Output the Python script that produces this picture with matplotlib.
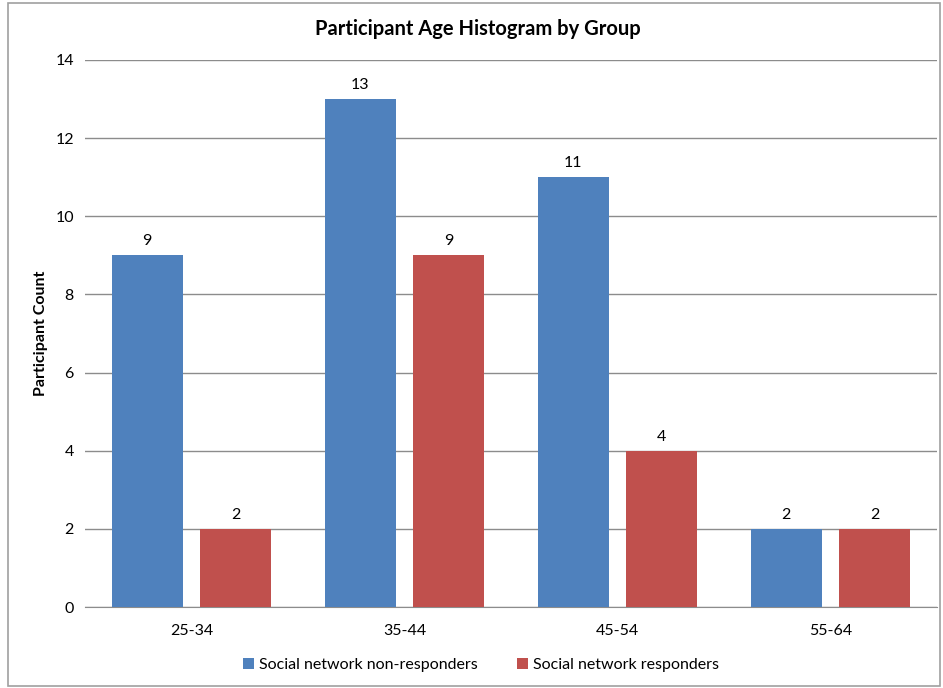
import matplotlib
matplotlib.use("Agg")
import matplotlib.pyplot as plt
from matplotlib.patches import Rectangle
import numpy as np

age_groups = ["25-34", "35-44", "45-54", "55-64"]
non_responders = [9, 13, 11, 2]
responders = [2, 9, 4, 2]
series_names = ["Social network non-responders", "Social network responders"]
y_ticks = [0, 2, 4, 6, 8, 10, 12, 14]

plt.rcParams["font.family"] = ["Lato", "DejaVu Sans"]

fig = plt.figure(figsize=(9.43, 6.88), dpi=100)
ax = fig.add_axes([0.0901, 0.1177, 0.9035, 0.7951])

blue = "#4F81BD"
red = "#C0504D"
grid_c = "#8C8C8C"

x = np.arange(len(age_groups))
w = 0.333
off = 0.208
b1 = ax.bar(x - off, non_responders, w, color=blue, label=series_names[0], zorder=3)
b2 = ax.bar(x + off, responders, w, color=red, label=series_names[1], zorder=3)

for bars, vals in ((b1, non_responders), (b2, responders)):
    for rect, v in zip(bars, vals):
        ax.annotate(str(v), (rect.get_x() + rect.get_width() / 2, v),
                    xytext=(0, 5), textcoords="offset points",
                    ha="center", va="bottom", fontsize=11.5, color="#000000")

ax.set_xlim(-0.5, len(age_groups) - 0.5)
ax.set_ylim(0, 14)
ax.set_yticks(y_ticks)
ax.set_xticks(x)
ax.set_xticklabels(age_groups)
ax.yaxis.grid(True, color=grid_c, linewidth=1.0, zorder=0)
ax.set_axisbelow(True)
for s in ("top", "right", "left"):
    ax.spines[s].set_visible(False)
ax.spines["bottom"].set_color(grid_c)
ax.tick_params(axis="both", length=0, labelsize=11.5, colors="#000000")
ax.tick_params(axis="y", pad=8)
ax.tick_params(axis="x", pad=12)

ax.set_ylabel("Participant Count", fontsize=11.5, fontweight="bold", labelpad=5)
fig.text(0.507, 0.958, "Participant Age Histogram by Group", ha="center", va="center",
         fontsize=14.5, fontweight="bold")

leg = fig.legend(handles=[b1, b2], labels=series_names, loc="center",
                 bbox_to_anchor=(0.51, 0.034), ncol=2, frameon=False, fontsize=11.5,
                 handlelength=0.7, handleheight=0.7, handletextpad=0.3, columnspacing=2.5)

fig.patches.append(Rectangle((8 / 943, 2 / 688), 932 / 943, 683 / 688, transform=fig.transFigure,
                             fill=False, edgecolor="#A0A0A0", linewidth=1.2))

fig.savefig("out.png", dpi=100)
